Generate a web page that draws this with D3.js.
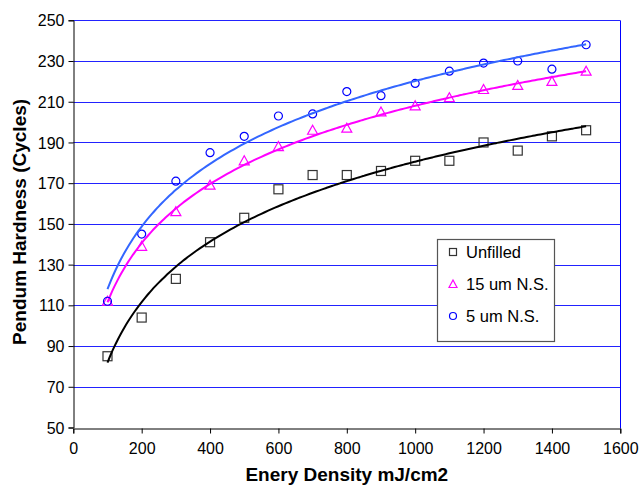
<!DOCTYPE html>
<html>
<head>
<meta charset="utf-8">
<script src="https://cdn.jsdelivr.net/npm/d3@7"></script>
<style>
  html, body { margin: 0; padding: 0; background: #fff; }
  svg { display: block; font-family: "Liberation Sans", Arial, sans-serif; }
</style>
</head>
<body>
<svg id="chart" width="642" height="485"></svg>
<script>
const energy = [100, 200, 300, 400, 500, 600, 700, 800, 900, 1000, 1100, 1200, 1300, 1400, 1500];
const unfilled = [85, 104, 123, 141, 153, 167, 174, 174, 176, 181, 181, 190, 186, 193, 196];
const ns15 = [112, 139, 156, 169, 181, 188, 196, 197, 205, 208, 212, 216, 218, 220, 225];
const ns5 = [112, 145, 171, 185, 193, 203, 204, 215, 213, 219, 225, 229, 230, 226, 238];
const seriesNames = ["Unfilled", "15 um N.S.", "5 um N.S."];
const xTicks = [0, 200, 400, 600, 800, 1000, 1200, 1400, 1600];
const yTicks = [50, 70, 90, 110, 130, 150, 170, 190, 210, 230, 250];

const svg = d3.select("#chart");
const L = 73.3, R = 620.3, T = 20.3, B = 427.5;
const x = d3.scaleLinear().domain([0, 1600]).range([L, R]);
const y = d3.scaleLinear().domain([50, 250]).range([B, T]);

// gridlines
svg.append("g").selectAll("line").data(yTicks.filter(v => v > 50)).join("line")
  .attr("x1", L).attr("x2", R)
  .attr("y1", d => Math.round(y(d)) + 0.5).attr("y2", d => Math.round(y(d)) + 0.5)
  .attr("stroke", "#2222ff").attr("stroke-width", 1);
// right border
svg.append("line").attr("x1", Math.round(R) + 0.5).attr("x2", Math.round(R) + 0.5)
  .attr("y1", Math.round(T) + 0.5).attr("y2", Math.round(B) + 0.5)
  .attr("stroke", "#0000ff").attr("stroke-width", 1);

// axes
const xAxis = svg.append("g").attr("transform", `translate(0,${Math.round(B) + 0.5})`)
  .call(d3.axisBottom(x).tickValues(xTicks).tickSize(5).tickPadding(9).tickFormat(d3.format("d")));
const yAxis = svg.append("g").attr("transform", `translate(${Math.round(L) + 0.5},0)`)
  .call(d3.axisLeft(y).tickValues(yTicks).tickSize(5).tickPadding(4).tickFormat(d3.format("d")));
[xAxis, yAxis].forEach(a => {
  a.select(".domain").attr("stroke", "#000");
  a.selectAll(".tick line").attr("stroke", "#000");
  a.selectAll(".tick text").attr("fill", "#000").style("font-size", "16px")
    .style("font-family", '"Liberation Sans", Arial, sans-serif');
});
yAxis.selectAll(".tick text").attr("dy", "0.35em");

// titles
svg.append("text").attr("x", (L + R) / 2).attr("y", 481).attr("text-anchor", "middle")
  .style("font-size", "19px").style("font-weight", "bold").text("Enery Density mJ/cm2");
svg.append("text").attr("transform", `translate(26,${(T + B) / 2 - 2}) rotate(-90)`).attr("text-anchor", "middle")
  .style("font-size", "19px").style("font-weight", "bold").text("Pendum Hardness (Cycles)");

// log trend lines (least squares fit on ln x, as the spreadsheet trendline)
function logFit(xs, ys) {
  const lx = xs.map(Math.log);
  const mx = d3.mean(lx), my = d3.mean(ys);
  let sxy = 0, sxx = 0;
  lx.forEach((v, i) => { sxy += (v - mx) * (ys[i] - my); sxx += (v - mx) * (v - mx); });
  const a = sxy / sxx, b = my - a * mx;
  return v => a * Math.log(v) + b;
}
const series = [
  { name: seriesNames[0], vals: unfilled, line: "#000000", mark: "#333333", shape: "square" },
  { name: seriesNames[1], vals: ns15, line: "#ff00ff", mark: "#ff00ff", shape: "triangle" },
  { name: seriesNames[2], vals: ns5, line: "#3366ff", mark: "#0000ff", shape: "circle" }
];
const xs = d3.range(energy[0], energy[energy.length - 1] + 1, 10);
const lineGen = d3.line().x(d => x(d[0])).y(d => y(d[1])).curve(d3.curveMonotoneX);

function marker(g, shape, color) {
  if (shape === "square") {
    g.append("rect").attr("x", -4.5).attr("y", -4.5).attr("width", 9).attr("height", 9)
      .attr("fill", "none").attr("stroke", color).attr("stroke-width", 1.2);
  } else if (shape === "triangle") {
    g.append("path").attr("d", "M0,-5L5,4L-5,4Z")
      .attr("fill", "none").attr("stroke", color).attr("stroke-width", 1.2);
  } else {
    g.append("circle").attr("r", 4).attr("fill", "none").attr("stroke", color).attr("stroke-width", 1.2);
  }
}

series.forEach(s => {
  const f = logFit(energy, s.vals);
  const pts = energy.map((e, i) => [e, s.vals[i]]);
  const g = svg.append("g");
  pts.forEach(p => {
    const m = g.append("g").attr("transform", `translate(${x(p[0])},${y(p[1])})`);
    marker(m, s.shape, s.mark);
  });
  svg.append("path").datum(xs.map(v => [v, f(v)])).attr("d", lineGen)
    .attr("fill", "none").attr("stroke", s.line).attr("stroke-width", 2);
});

// legend
const lg = svg.append("g");
lg.append("rect").attr("x", 437.5).attr("y", 239.5).attr("width", 117).attr("height", 102)
  .attr("fill", "#fff").attr("stroke", "#555").attr("stroke-width", 1.2);
series.forEach((s, i) => {
  const cy = 252 + i * 32;
  const m = lg.append("g").attr("transform", `translate(453,${cy})`);
  if (s.shape === "square") {
    m.append("rect").attr("x", -3.5).attr("y", -3.5).attr("width", 7).attr("height", 7)
      .attr("fill", "none").attr("stroke", s.mark).attr("stroke-width", 1.2);
  } else if (s.shape === "triangle") {
    m.append("path").attr("d", "M0,-4L4,3.5L-4,3.5Z").attr("fill", "none").attr("stroke", s.mark).attr("stroke-width", 1.2);
  } else {
    m.append("circle").attr("r", 3.5).attr("fill", "none").attr("stroke", s.mark).attr("stroke-width", 1.2);
  }
  lg.append("text").attr("x", 466).attr("y", cy).attr("dy", "0.35em")
    .style("font-size", "16.5px").attr("fill", "#000").text(s.name);
});
</script>
</body>
</html>
